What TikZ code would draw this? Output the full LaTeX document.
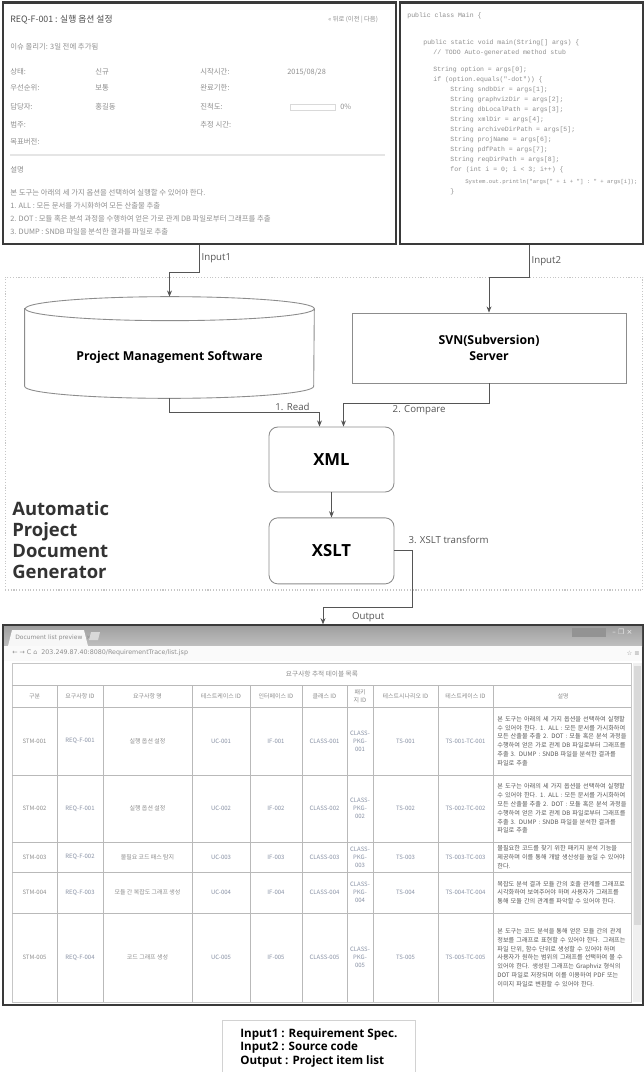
\documentclass[tikz,border=0pt]{standalone}
\usepackage{fontspec}
\setsansfont{Open Sans}
\setmonofont{Liberation Mono}
\newfontfamily\kor{Noto Sans CJK KR}
\newfontfamily\symfont{DejaVu Sans}
\usetikzlibrary{positioning, arrows.meta, calc}
\definecolor{lineclr}{HTML}{555555}
\definecolor{boxclr}{HTML}{8C8C8C}
\definecolor{shotclr}{HTML}{3A3A3A}
\definecolor{faint}{HTML}{8E8E8E}
\definecolor{linkclr}{HTML}{8A93A6}
\tikzset{
  shot/.style={draw=shotclr, line width=0.8pt, fill=white},
  flowbox/.style={
    draw=boxclr, line width=0.5pt, fill=white,
    font=\sffamily\bfseries\fontsize{7}{9.5}\selectfont,
    align=center
  },
  roundbox/.style={
    flowbox, rounded corners=5pt,
    font=\sffamily\bfseries\fontsize{9.5}{12}\selectfont
  },
  flow/.style={-{Stealth[length=3.5pt,width=2.8pt]}, draw=lineclr, line width=0.45pt},
  lbl/.style={font=\sffamily\fontsize{5.5}{6.5}\selectfont, text=lineclr, inner sep=1pt},
  scrtxt/.style={font=\kor\fontsize{4.2}{5}\selectfont, text=faint, inner sep=0pt, anchor=west},
  codetxt/.style={font=\ttfamily\fontsize{3.7}{4.5}\selectfont, text=faint, inner sep=0pt, anchor=west},
  cell/.style={font=\kor\fontsize{3.4}{4.6}\selectfont, text=faint, inner sep=0pt, align=center},
  linkcell/.style={cell, text=linkclr},
  desccell/.style={font=\kor\fontsize{3.5}{5}\selectfont, text=gray!70!black, inner sep=0pt,
    align=left, text width=2.62cm, anchor=west},
  tablegrid/.style={draw=gray!55, line width=0.35pt}
}

\begin{document}
\begin{tikzpicture}[x=0.02cm, y=0.02cm]
  \useasboundingbox (0,0) rectangle (644,-1072);
  \fill[white] (0,0) rectangle (644,-1072);

  % requirement spec screenshot
  \node[shot, minimum width=7.86cm, minimum height=4.82cm] (spec) at (199.5,-123.5) {};
  \draw[shotclr, line width=1.5pt] (spec.north west) -- (spec.north east);
  \node[scrtxt, text=gray!60!black, font=\kor\fontsize{5}{6}\selectfont] at (10,-20) {REQ-F-001 : 실행 옵션 설정};
  \node[scrtxt, font=\kor\fontsize{3.6}{4}\selectfont] at (328,-20) {« 뒤로 (이전 | 다음)};
  \node[scrtxt] at (10,-47) {이슈 올리기: 3일 전에 추가됨};
  \node[scrtxt] at (10,-72) {상태:};
  \node[scrtxt] at (95,-72) {신규};
  \node[scrtxt] at (200,-72) {시작시간:};
  \node[scrtxt] at (287,-72) {2015/08/28};
  \node[scrtxt] at (10,-88) {우선순위:};
  \node[scrtxt] at (95,-88) {보통};
  \node[scrtxt] at (200,-88) {완료기한:};
  \node[scrtxt] at (10,-107) {담당자:};
  \node[scrtxt] at (95,-107) {홍길동};
  \node[scrtxt] at (200,-107) {진척도:};
  \draw[gray!30] (290,-104) rectangle (335,-110);
  \node[scrtxt] at (340,-107) {0\%};
  \node[scrtxt] at (10,-125) {범주:};
  \node[scrtxt] at (200,-125) {추정 시간:};
  \node[scrtxt] at (10,-142) {목표버전:};
  \draw[gray!20, line width=0.8pt] (10,-155) -- (385,-155);
  \node[scrtxt] at (10,-170) {설명};
  \node[scrtxt] at (10,-193) {본 도구는 아래의 세 가지 옵션을 선택하여 실행할 수 있어야 한다.};
  \node[scrtxt] at (10,-206) {1. ALL : 모든 문서를 가시화하여 모든 산출물 추출};
  \node[scrtxt] at (10,-219) {2. DOT : 모듈 혹은 분석 과정을 수행하여 얻은 가로 관계 DB 파일로부터 그래프를 추출};
  \node[scrtxt] at (10,-232) {3. DUMP : SNDB 파일을 분석한 결과를 파일로 추출};

  % source code screenshot
  \node[shot, minimum width=4.86cm, minimum height=4.82cm] (code) at (521.5,-123.5) {};
  \draw[shotclr, line width=1.5pt] (code.north west) -- (code.north east);
  \node[codetxt] at (407,-16) {public class Main \{};
  \node[codetxt] at (423,-43) {public static void main(String[] args) \{};
  \node[codetxt] at (433,-53) {// TODO Auto-generated method stub};
  \node[codetxt] at (433,-70) {String option = args[0];};
  \node[codetxt] at (433,-80) {if (option.equals("-dot")) \{};
  \node[codetxt] at (450,-90) {String sndbDir = args[1];};
  \node[codetxt] at (450,-100) {String graphvizDir = args[2];};
  \node[codetxt] at (450,-110) {String dbLocalPath = args[3];};
  \node[codetxt] at (450,-120) {String xmlDir = args[4];};
  \node[codetxt] at (450,-130) {String archiveDirPath = args[5];};
  \node[codetxt] at (450,-140) {String projName = args[6];};
  \node[codetxt] at (450,-150) {String pdfPath = args[7];};
  \node[codetxt] at (450,-160) {String reqDirPath = args[8];};
  \node[codetxt] at (450,-170) {for (int i = 0; i < 3; i++) \{};
  \node[codetxt, font=\ttfamily\fontsize{3.2}{4.5}\selectfont] at (465,-182) {System.out.println("args[" + i + "] : " + args[i]);};
  \node[codetxt] at (450,-192) {\}};

  % generator frame
  \node[draw=gray!45, densely dotted, line width=0.6pt, minimum width=12.76cm, minimum height=6.26cm] (gen) at (324,-433.5) {};
  \node[font=\sffamily\bfseries\fontsize{10.5}{11.95}\selectfont, align=left, anchor=west, text=black!80, inner sep=0pt] (genlbl) at (12,-540) {Automatic\\Project\\Document\\Generator};

  % project management software (cylinder)
  \node[minimum width=5.78cm, minimum height=2.02cm, inner sep=0pt] (pms) at (169.5,-347.5) {};
  \draw[draw=boxclr, line width=0.5pt, fill=white]
    ($(pms.north west)+(0,-12)$) -- ($(pms.south west)+(0,12)$)
    arc[start angle=180, end angle=360, x radius=144.5, y radius=12]
    -- ($(pms.north east)+(0,-12)$)
    arc[start angle=0, end angle=180, x radius=144.5, y radius=12] -- cycle;
  \draw[draw=boxclr, line width=0.5pt] ($(pms.north east)+(0,-12)$)
    arc[start angle=0, end angle=-180, x radius=144.5, y radius=12];
  \node[font=\sffamily\bfseries\fontsize{7}{9}\selectfont] (pmstext) at ($(pms.center)+(0,-10)$) {Project Management Software};

  \node[flowbox, minimum width=5.48cm, minimum height=1.4cm] (svn) at (489,-348) {SVN(Subversion)\\Server};
  \node[roundbox, minimum width=2.5cm, minimum height=1.3cm] (xml) at (331.5,-459.5) {XML};
  \node[roundbox, minimum width=2.5cm, minimum height=1.32cm, below=0.5cm of xml] (xslt) {XSLT};

  % document list screenshot
  \node[shot, minimum width=12.8cm, minimum height=7.6cm] (browser) at (323,-815) {};
  \shade[top color=gray!75, bottom color=gray!50] (4,-626) rectangle (642,-646);
  \fill[gray!6] (8,-646) -- (12,-630) -- (84,-630) -- (88,-646) -- cycle;
  \node[font=\symfont\fontsize{3.4}{4}\selectfont, text=faint, anchor=west, inner sep=0pt] at (15,-638) {Document list preview \ ×};
  \fill[gray!30] (89,-640) -- (91,-632) -- (100,-632) -- (98,-640) -- cycle;
  \fill[gray!85] (572,-628) rectangle (606,-637);
  \node[font=\symfont\fontsize{4}{4}\selectfont, text=gray!15, anchor=west, inner sep=0pt] at (612,-632) {–\ ❐\ ×};
  \fill[gray!4] (4,-646) rectangle (642,-661);
  \node[font=\symfont\fontsize{3.6}{4}\selectfont, text=faint, anchor=west, inner sep=0pt] at (12,-653) {← → C ⌂ \ 203.249.87.40:8080/RequirementTrace/list.jsp};
  \node[font=\symfont\fontsize{3.6}{4}\selectfont, text=faint, anchor=east, inner sep=0pt] at (640,-653) {☆ ≡};
  \fill[gray!12] (633,-663) rectangle (642,-1002);
  \fill[gray!30] (634,-666) rectangle (641,-925);

  % trace table
  \draw[draw=gray!45, line width=0.5pt] (12,-663) rectangle (631,-1002);
  \foreach \y in {685,707,775,842,872,913}
    \draw[tablegrid] (12,-\y) -- (631,-\y);
  \foreach \x in {57,103,192,250,302,347,373,438,493}
    \draw[tablegrid] (\x,-685) -- (\x,-1002);
  \node[cell, font=\kor\fontsize{3.8}{4.6}\selectfont] (tabletitle) at (322,-674) {요구사항 추적 테이블 목록};
  \foreach \x/\t in {34.5/구분, 80/요구사항 ID, 147.5/요구사항 명, 221/테스트케이스 ID,
      276/인터페이스 ID, 324.5/클래스 ID, 360/{패키\\지 ID}, 405.5/테스트시나리오 ID,
      465.5/테스트케이스 ID, 563/설명}
    \node[cell] at (\x,-696) {\t};
  \foreach \y/\n/\req/\name in {741/1/REQ-F-001/실행 옵션 설정, 808.5/2/REQ-F-001/실행 옵션 설정,
      857/3/REQ-F-002/불필요 코드 패스 탐지, 892.5/4/REQ-F-003/모듈 간 복잡도 그래프 생성,
      957.5/5/REQ-F-004/코드 그래프 생성} {
    \node[cell] at (34.5,-\y) {STM-00\n};
    \node[linkcell] at (80,-\y) {\req};
    \node[cell] at (147.5,-\y) {\name};
    \node[linkcell] at (221,-\y) {UC-00\n};
    \node[linkcell] at (276,-\y) {IF-00\n};
    \node[linkcell] at (324.5,-\y) {CLASS-00\n};
    \node[linkcell] at (360,-\y) {CLASS-\\PKG-\\00\n};
    \node[linkcell] at (405.5,-\y) {TS-00\n};
    \node[linkcell] at (465.5,-\y) {TS-00\n-TC-00\n};
  }
  \node[desccell] at (497,-741) {본 도구는 아래의 세 가지 옵션을 선택하여 실행할 수 있어야 한다. 1. ALL : 모든 문서를 가시화하여 모든 산출물 추출 2. DOT : 모듈 혹은 분석 과정을 수행하여 얻은 가로 관계 DB 파일로부터 그래프를 추출 3. DUMP : SNDB 파일을 분석한 결과를 파일로 추출};
  \node[desccell] at (497,-808.5) {본 도구는 아래의 세 가지 옵션을 선택하여 실행할 수 있어야 한다. 1. ALL : 모든 문서를 가시화하여 모든 산출물 추출 2. DOT : 모듈 혹은 분석 과정을 수행하여 얻은 가로 관계 DB 파일로부터 그래프를 추출 3. DUMP : SNDB 파일을 분석한 결과를 파일로 추출};
  \node[desccell] at (497,-857) {불필요한 코드를 찾기 위한 패키지 분석 기능을 제공하며 이를 통해 개발 생산성을 높일 수 있어야 한다.};
  \node[desccell] at (497,-892.5) {복잡도 분석 결과 모듈 간의 호출 관계를 그래프로 시각화하여 보여주어야 하며 사용자가 그래프를 통해 모듈 간의 관계를 파악할 수 있어야 한다.};
  \node[desccell] at (497,-957.5) {본 도구는 코드 분석을 통해 얻은 모듈 간의 관계 정보를 그래프로 표현할 수 있어야 한다. 그래프는 파일 단위, 함수 단위로 생성할 수 있어야 하며 사용자가 원하는 범위의 그래프를 선택하여 볼 수 있어야 한다. 생성된 그래프는 Graphviz 형식의 DOT 파일로 저장되며 이를 이용하여 PDF 또는 이미지 파일로 변환할 수 있어야 한다.};

  % connectors
  \draw[flow] (spec.south) -- node[lbl, right]{Input1} ++(0,-28) -| (pms.north);
  \draw[flow] ($(code.south)+(8,0)$) -- node[lbl, right]{Input2} ++(0,-33) -| (svn.north);
  \draw[flow] (pms.south) -- ++(0,-14) -| node[lbl, above, pos=0.41]{1. Read} ($(xml.north)+(-12,0)$);
  \draw[flow] (svn.south) -- ++(0,-20) -| node[lbl, below, pos=0.24]{2. Compare} ($(xml.north)+(12,0)$);
  \draw[flow] (xml) -- (xslt);
  \draw[flow] (xslt.east) -- ++(18,0) -- ++(0,-57) -| (browser.north);
  \node[lbl, anchor=west] (xsltlbl) at ($(xslt.east)+(12,11)$) {3. XSLT transform};
  \node[lbl, anchor=west] (outlbl) at ($(browser.north)+(27,7)$) {Output};

  % legend
  \node[draw=gray!35, line width=0.4pt, anchor=north west, minimum width=3.86cm, minimum height=1.1cm,
    align=left, font=\sffamily\bfseries\fontsize{6.6}{7.7}\selectfont, inner xsep=4.5pt] (legend) at (222,-1020)
    {Input1 : Requirement Spec.\\Input2 : Source code\\Output : Project item list};
\end{tikzpicture}
\end{document}
